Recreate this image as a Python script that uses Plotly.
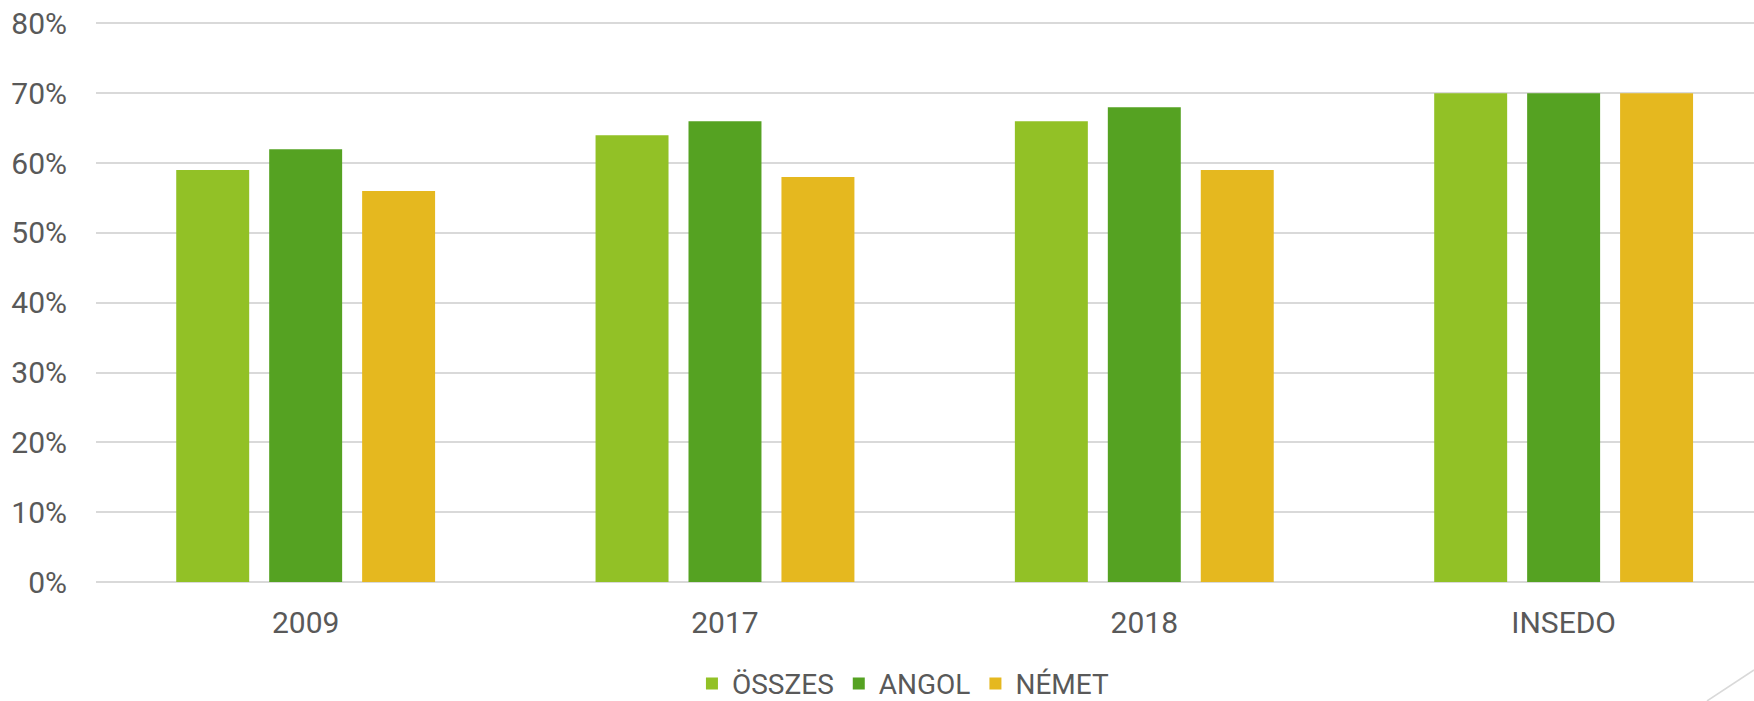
import plotly.graph_objects as go

categories = ["2009", "2017", "2018", "INSEDO"]
osszes = [0.59, 0.64, 0.66, 0.70]
angol = [0.62, 0.66, 0.68, 0.70]
nemet = [0.56, 0.58, 0.59, 0.70]
series_names = ["ÖSSZES", "ANGOL", "NÉMET"]
y_ticks = [0, 0.1, 0.2, 0.3, 0.4, 0.5, 0.6, 0.7, 0.8]

colors = ["#92C126", "#55A222", "#E5B81F"]
FONT = "Roboto, DejaVu Sans, sans-serif"

fig = go.Figure()
for name, vals, col in zip(series_names, [osszes, angol, nemet], colors):
    fig.add_trace(go.Bar(
        x=categories, y=vals, name=name,
        marker=dict(color=col, line=dict(width=0)),
        hoverinfo="x+y+name",
    ))

fig.update_layout(
    width=1754, height=701,
    margin=dict(l=96, r=0, t=20, b=119, pad=0, autoexpand=False),
    paper_bgcolor="white", plot_bgcolor="white",
    barmode="group", bargap=0.335, bargroupgap=0.215,
    font=dict(family=FONT, color="#595959", size=30),
    legend=dict(
        orientation="h", x=0.487, xanchor="center", y=-0.181, yanchor="middle",
        font=dict(family=FONT, size=28, color="#595959"),
        itemwidth=30, tracegroupgap=0, itemclick=False,
    ),
    xaxis=dict(
        range=[-0.5, 3.454], showgrid=False, zeroline=False, automargin=False,
        showline=False, ticks="", ticklabelstandoff=20,
        tickfont=dict(size=30, color="#595959"),
    ),
    yaxis=dict(
        range=[0, 0.805], tickvals=y_ticks, tickformat=".0%", automargin=False,
        showgrid=True, gridcolor="#D9D9D9", gridwidth=2,
        zeroline=True, zerolinecolor="#D9D9D9", zerolinewidth=2,
        showline=False, ticks="", ticklabelstandoff=28,
        tickfont=dict(size=30, color="#595959"),
    ),
    shapes=[dict(
        type="line", xref="paper", yref="paper",
        x0=(1707 - 96) / 1658, y0=(582 - 701) / 562,
        x1=1.0, y1=(582 - 670) / 562,
        line=dict(color="#D9D9D9", width=1.5), layer="below",
    )],
)

fig.write_html(
    "out.html",
    config={"displayModeBar": False},
    post_script="document.body.style.margin='0';document.body.style.overflow='hidden';",
)
